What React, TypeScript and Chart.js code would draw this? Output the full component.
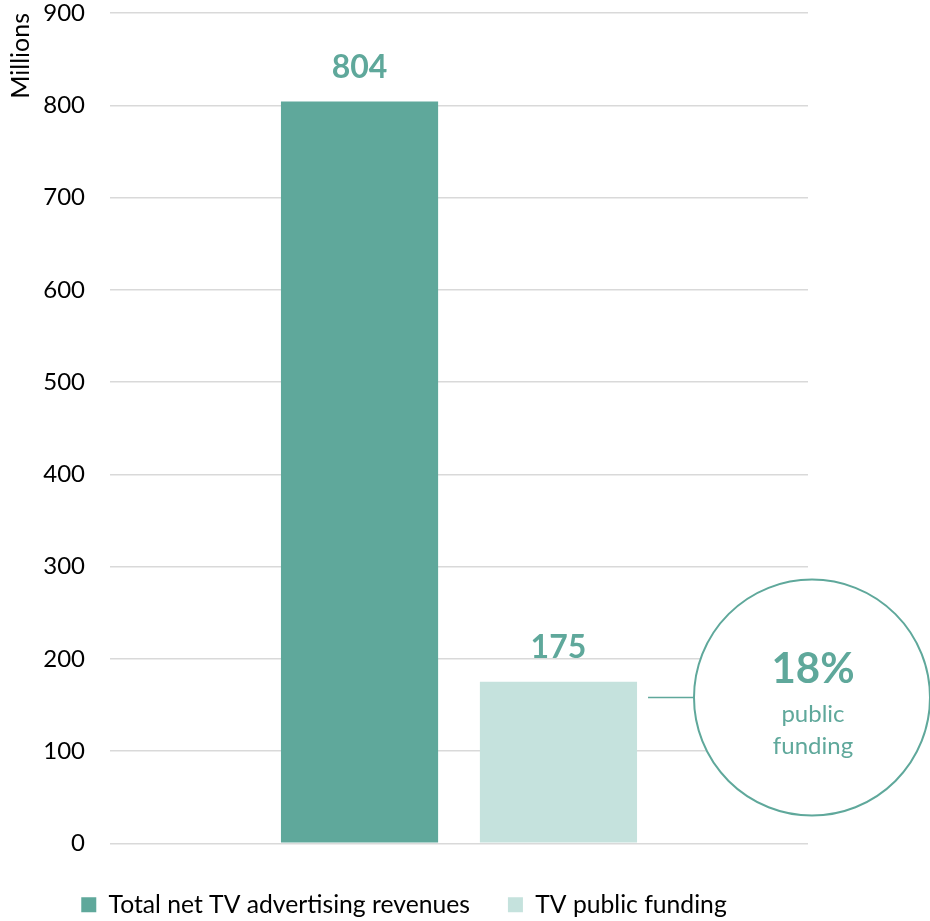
import React, { useEffect, useRef } from "react";
import { Chart, registerables } from "chart.js";

Chart.register(...registerables);

const categories = [""];
const seriesNames = ["Total net TV advertising revenues", "TV public funding"];
const advertisingValues = [804];
const publicFundingValues = [175];
const yTicks = [0, 100, 200, 300, 400, 500, 600, 700, 800, 900];
const calloutPercent = "18%";
const calloutLines = ["public", "funding"];
const calloutValue = 158;

const DARK = "#5fa89b";
const LIGHT = "#c5e2dd";
const FONT = "Lato, 'Open Sans', sans-serif";

const overlayPlugin = {
  id: "overlay",
  afterDatasetsDraw(chart: any) {
    const ctx = chart.ctx;
    ctx.save();
    chart.data.datasets.forEach((ds: any, di: number) => {
      const meta = chart.getDatasetMeta(di);
      meta.data.forEach((bar: any, i: number) => {
        ctx.fillStyle = DARK;
        ctx.font = `bold 32px ${FONT}`;
        ctx.textAlign = "center";
        ctx.textBaseline = "alphabetic";
        ctx.fillText(String(ds.data[i]), bar.x, bar.y - 24);
      });
    });
    const bar = chart.getDatasetMeta(1).data[0] as any;
    const area = chart.chartArea;
    const cy = chart.scales.y.getPixelForValue(calloutValue);
    const r = 118;
    const cx = area.right + 4;
    ctx.strokeStyle = DARK;
    ctx.lineWidth = 2;
    ctx.beginPath();
    ctx.fillStyle = "#ffffff";
    ctx.arc(cx, cy, r, 0, Math.PI * 2);
    ctx.fill();
    ctx.stroke();
    ctx.lineWidth = 1.5;
    ctx.beginPath();
    ctx.moveTo(bar.x + bar.width / 2 + 11, cy);
    ctx.lineTo(cx - r, cy);
    ctx.stroke();
    ctx.fillStyle = DARK;
    ctx.textAlign = "center";
    ctx.textBaseline = "alphabetic";
    ctx.font = `bold 42px ${FONT}`;
    ctx.fillText(calloutPercent, cx + 1, cy - 15);
    ctx.font = `24px ${FONT}`;
    ctx.fillText(calloutLines[0], cx + 1, cy + 24);
    ctx.fillText(calloutLines[1], cx + 1, cy + 56);
    ctx.restore();
  },
};

export default function App() {
  const ref = useRef<HTMLCanvasElement>(null);
  useEffect(() => {
    if (!ref.current) return;
    const chart = new Chart(ref.current, {
      type: "bar",
      data: {
        labels: categories,
        datasets: [
          {
            label: seriesNames[0],
            data: advertisingValues,
            backgroundColor: DARK,
            categoryPercentage: 0.57,
            barPercentage: 0.79,
          },
          {
            label: seriesNames[1],
            data: publicFundingValues,
            backgroundColor: LIGHT,
            categoryPercentage: 0.57,
            barPercentage: 0.79,
          },
        ],
      },
      options: {
        animation: false,
        responsive: true,
        maintainAspectRatio: false,
        layout: { padding: { top: 13, right: 122, left: 0, bottom: -6 } },
        plugins: {
          tooltip: { enabled: false },
          legend: {
            position: "bottom",
            labels: {
              boxWidth: 15,
              boxHeight: 15,
              padding: 38,
              color: "#000",
              font: { family: FONT, size: 24.7 },
            },
          },
        },
        scales: {
          x: {
            display: true,
            grid: { display: false, drawTicks: false },
            border: { display: false },
            ticks: { display: false },
            afterFit(scale: any) {
              scale.height = 11;
            },
          },
          y: {
            min: 0,
            max: 900,
            afterBuildTicks(scale: any) {
              scale.ticks = yTicks.map((v) => ({ value: v }));
            },
            afterFit(scale: any) {
              scale.width = 110;
              scale.paddingTop = 0;
              scale.paddingBottom = 0;
            },
            grid: { color: "#d9d9d9", lineWidth: 1.5, drawTicks: false },
            border: { display: false },
            ticks: {
              padding: 25,
              color: "#000",
              font: { family: FONT, size: 24 },
            },
            title: {
              display: true,
              text: "Millions",
              align: "end",
              color: "#000",
              padding: { top: 6, bottom: 0 },
              font: { family: FONT, size: 25 },
            },
          },
        },
      },
      plugins: [overlayPlugin],
    });
    return () => chart.destroy();
  }, []);
  return (
    <div style={{ position: "absolute", left: 0, top: 0, width: 930, height: 921 }}>
      <canvas ref={ref} />
    </div>
  );
}
